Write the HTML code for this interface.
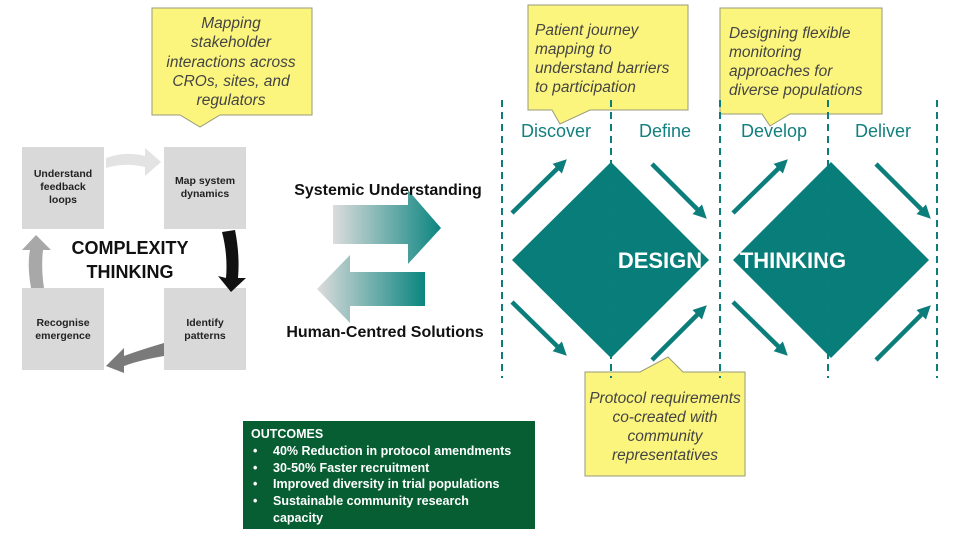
<!DOCTYPE html>
<html><head><meta charset="utf-8"><style>
body{margin:0;width:960px;height:540px;background:#fff;overflow:hidden;font-family:"Liberation Sans",sans-serif}
svg{position:absolute;left:0;top:0}
</style></head><body>
<svg width="960" height="540" viewBox="0 0 960 540">
<defs>
<linearGradient id="gr" x1="0" x2="1"><stop offset="0" stop-color="#dcdcdc"/><stop offset="1" stop-color="#0b8580"/></linearGradient>
<linearGradient id="gl" x1="0" x2="1"><stop offset="0" stop-color="#dcdcdc"/><stop offset="1" stop-color="#0b8580"/></linearGradient>
<marker id="ah" markerWidth="3" markerHeight="3" refX="1.5" refY="1.5" orient="auto"><path d="M0,0 L3,1.5 L0,3 z" fill="#0b7d7b"/></marker>
</defs>
<g fill="#d9d9d9">
<rect x="22" y="147" width="82" height="82"/><rect x="164" y="147" width="82" height="82"/>
<rect x="22" y="288" width="82" height="82"/><rect x="164" y="288" width="82" height="82"/>
</g>
<g font-weight="bold" font-size="10.5" text-anchor="middle" fill="#222">
<text x="63" y="177">Understand</text><text x="63" y="190">feedback</text><text x="63" y="203">loops</text>
<text x="205" y="184">Map system</text><text x="205" y="197">dynamics</text>
<text x="63" y="326">Recognise</text><text x="63" y="339">emergence</text>
<text x="205" y="326">Identify</text><text x="205" y="339">patterns</text>
</g>
<text x="130" y="254" font-weight="bold" font-size="18" text-anchor="middle" fill="#111">COMPLEXITY</text>
<text x="130" y="278" font-weight="bold" font-size="18" text-anchor="middle" fill="#111">THINKING</text>
<path d="M106,158 Q125,151 145,156 L145,148 L161,162 L145,176 L145,167 Q125,162 106,168 z" fill="#e3e3e3"/>
<path d="M222,232 L235,230 Q240,255 238,278 L246,278 L231,292 L218,276 L226,278 Q228,255 222,232 z" fill="#111"/>
<path d="M164,343 Q140,350 124,356 L124,348 L106,366 L124,373 L124,366 Q140,360 164,356 z" fill="#7a7a7a"/>
<path d="M31,288 Q27,265 30,250 L22,250 L36,235 L51,250 L43,250 Q41,268 44,288 z" fill="#a8a8a8"/>
<path d="M333,205 L408,205 L408,190 L441,228 L408,264 L408,244 L333,244 z" fill="url(#gr)"/>
<path d="M425,272 L350,272 L350,255 L317,289 L350,323 L350,306 L425,306 z" fill="url(#gl)"/>
<text x="388" y="195" font-weight="bold" font-size="16" text-anchor="middle" fill="#111">Systemic Understanding</text>
<text x="385" y="337" font-weight="bold" font-size="16" text-anchor="middle" fill="#111">Human-Centred Solutions</text>
<path d="M611,162 L709,260 L611,358 L512,260 z" fill="#087d7a"/>
<path d="M831,162 L929,260 L831,358 L733,260 z" fill="#087d7a"/>
<text x="660" y="268" font-weight="bold" font-size="22" text-anchor="middle" fill="#fff">DESIGN</text>
<text x="793" y="268" font-weight="bold" font-size="22" text-anchor="middle" fill="#fff">THINKING</text>
<g stroke="#0b7d7b" stroke-width="4.5" marker-end="url(#ah)">
<line x1="512" y1="213" x2="562" y2="164"/><line x1="652" y1="164" x2="702" y2="214"/>
<line x1="512" y1="302" x2="562" y2="351"/><line x1="652" y1="360" x2="702" y2="310"/>
<line x1="733" y1="213" x2="783" y2="164"/><line x1="876" y1="164" x2="926" y2="214"/>
<line x1="733" y1="302" x2="783" y2="351"/><line x1="876" y1="360" x2="926" y2="310"/>
</g>
<g fill="#fbf57e" stroke="#9a9a7a" stroke-width="1">
<path d="M152,8 L312,8 L312,115 L220,115 L200,127 L180,115 L152,115 z"/>
<path d="M528,5 L688,5 L688,110 L590,110 L560,124 L552,110 L528,110 z"/>
<path d="M720,8 L882,8 L882,114 L790,114 L770,126 L762,114 L720,114 z"/>
<path d="M585,372 L640,372 L668,357 L683,372 L745,372 L745,476 L585,476 z"/>
</g>
<g font-style="italic" font-size="15.5" fill="#444">
<g text-anchor="middle"><text x="231" y="28">Mapping</text><text x="231" y="47">stakeholder</text><text x="231" y="67">interactions across</text><text x="231" y="86">CROs, sites, and</text><text x="231" y="105">regulators</text></g>
<text x="535" y="35">Patient journey</text><text x="535" y="54">mapping to</text><text x="535" y="73">understand barriers</text><text x="535" y="92">to participation</text>
<text x="729" y="38">Designing flexible</text><text x="729" y="57">monitoring</text><text x="729" y="76">approaches for</text><text x="729" y="95">diverse populations</text>
<g text-anchor="middle"><text x="665" y="403">Protocol requirements</text><text x="665" y="422">co-created with</text><text x="665" y="441">community</text><text x="665" y="460">representatives</text></g>
</g>
<g stroke="#0b7d7b" stroke-width="2" stroke-dasharray="7,5">
<line x1="502" y1="100" x2="502" y2="378"/><line x1="611" y1="100" x2="611" y2="378"/>
<line x1="720" y1="100" x2="720" y2="378"/><line x1="828" y1="100" x2="828" y2="378"/>
<line x1="937" y1="100" x2="937" y2="378"/>
</g>
<g font-size="18" fill="#137f7f" text-anchor="middle">
<text x="556" y="137">Discover</text><text x="665" y="137">Define</text><text x="774" y="137">Develop</text><text x="883" y="137">Deliver</text>
</g>
<rect x="243" y="421" width="292" height="108" fill="#075e32"/>
<g font-weight="bold" font-size="12.5" fill="#fff">
<text x="251" y="438">OUTCOMES</text>
<text x="253" y="455">•</text><text x="273" y="455">40% Reduction in protocol amendments</text>
<text x="253" y="472">•</text><text x="273" y="472">30-50% Faster recruitment</text>
<text x="253" y="488">•</text><text x="273" y="488">Improved diversity in trial populations</text>
<text x="253" y="505">•</text><text x="273" y="505">Sustainable community research</text>
<text x="273" y="522">capacity</text>
</g>
</svg>
</body></html>
